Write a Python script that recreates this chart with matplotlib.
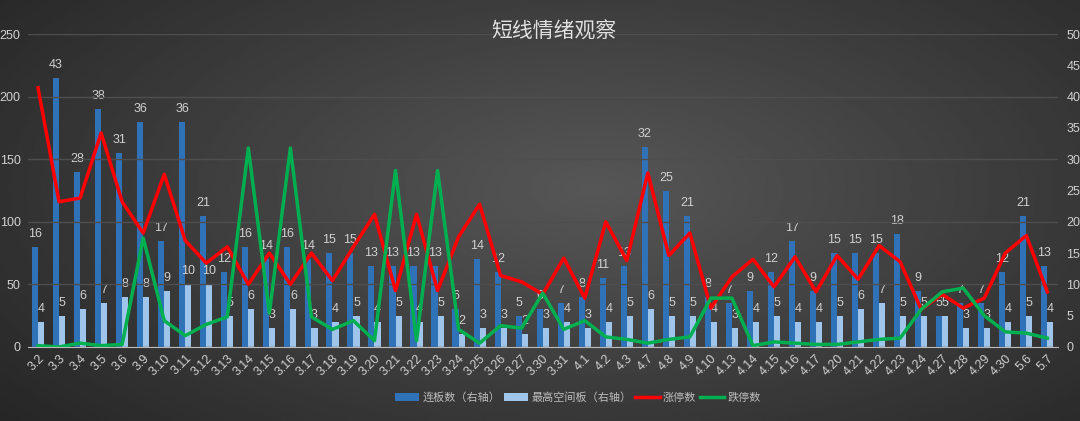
import numpy as np
import matplotlib
matplotlib.use('Agg')
import matplotlib.pyplot as plt

plt.rcParams['font.family'] = ['Liberation Sans', 'Noto Sans CJK SC', 'DejaVu Sans']

# 数据
dates = ['3.2', '3.3', '3.4', '3.5', '3.6', '3.9', '3.10', '3.11', '3.12', '3.13',
         '3.14', '3.15', '3.16', '3.17', '3.18', '3.19', '3.20', '3.21', '3.22', '3.23',
         '3.24', '3.25', '3.26', '3.27', '3.30', '3.31', '4.1', '4.2', '4.3', '4.7',
         '4.8', '4.9', '4.10', '4.13', '4.14', '4.15', '4.16', '4.17', '4.20', '4.21',
         '4.22', '4.23', '4.24', '4.27', '4.28', '4.29', '4.30', '5.6', '5.7']
lianban = [16, 43, 28, 38, 31, 36, 17, 36, 21, 12,
           16, 14, 16, 14, 15, 15, 13, 13, 13, 13,
           6, 14, 12, 5, 6, 7, 8, 11, 13, 32,
           25, 21, 8, 7, 9, 12, 17, 9, 15, 15,
           15, 18, 9, 5, 7, 7, 12, 21, 13]
zuigao = [4, 5, 6, 7, 8, 8, 9, 10, 10, 5,
          6, 3, 6, 3, 4, 5, 4, 5, 4, 5,
          2, 3, 3, 2, 3, 4, 3, 4, 5, 6,
          5, 5, 4, 3, 4, 5, 4, 4, 5, 6,
          7, 5, 5, 5, 3, 3, 4, 5, 4]
zhangting = [207, 116, 119, 171, 116, 91, 138, 85, 67, 80,
             50, 75, 50, 75, 53, 80, 106, 45, 106, 45,
             88, 114, 57, 52, 42, 71, 39, 100, 69, 139,
             73, 91, 31, 56, 70, 48, 72, 44, 73, 54,
             81, 68, 30, 42, 31, 39, 75, 89, 44]
dieting = [1, 0, 3, 1, 2, 87, 21, 9, 18, 24,
           159, 27, 159, 24, 14, 21, 5, 141, 5, 141,
           14, 3, 17, 15, 43, 14, 21, 8, 6, 3,
           6, 8, 39, 39, 1, 4, 3, 2, 2, 4,
           6, 7, 30, 44, 47, 25, 12, 11, 7]

fig = plt.figure(figsize=(10.8, 4.21), dpi=100)

# 背景渐变
bg = fig.add_axes([0, 0, 1, 1])
yy, xx = np.mgrid[0:1:200j, 0:1:400j]
r = np.sqrt(((xx - 0.55) / 0.75) ** 2 + ((yy - 0.45) / 0.9) ** 2)
bg.imshow(0.34 - 0.2 * r, cmap='gray', vmin=0, vmax=1, aspect='auto',
          extent=[0, 1, 0, 1])
bg.axis('off')

ax = fig.add_axes([0.0255, 0.176, 0.954, 0.743])
ax.patch.set_alpha(0)
ax2 = ax.twinx()
ax.set_zorder(ax2.get_zorder() + 1)

x = np.arange(len(dates))
w = 0.29
b1 = ax2.bar(x - w / 2, lianban, w, color='#2f72b8', label='连板数（右轴）')
b2 = ax2.bar(x + w / 2, zuigao, w, color='#9fc5ea', label='最高空间板（右轴）')
ax2.bar_label(b1, padding=5, color='#d0d0d0', fontsize=9)
ax2.bar_label(b2, padding=5, color='#d0d0d0', fontsize=9)

l1, = ax.plot(x, zhangting, color='#ff0000', lw=2.5, label='涨停数')
l2, = ax.plot(x, dieting, color='#00b050', lw=2.5, label='跌停数')

ax.set_ylim(0, 250)
ax2.set_ylim(0, 50)
ax.set_xlim(-0.5, len(dates) - 0.5)
ax.set_yticks(range(0, 251, 50))
ax2.set_yticks(range(0, 51, 5))
ax.set_xticks(x)
ax.set_xticklabels(dates, rotation=45, ha='right', rotation_mode='anchor')

ax.grid(axis='y', color='#4e4e4e', lw=1)
ax.set_axisbelow(True)
for a in (ax, ax2):
    for s in a.spines.values():
        s.set_visible(False)
    a.tick_params(length=0, colors='#d0d0d0', labelsize=9)
ax2.grid(False)
ax.spines['bottom'].set_visible(True)
ax.spines['bottom'].set_color('#bbbbbb')
ax.tick_params(axis='y', pad=5)
ax.tick_params(axis='x', pad=4)
ax2.tick_params(axis='y', pad=6)

fig.text(0.513, 0.925, '短线情绪观察', ha='center', va='center', fontsize=15,
         color='#e0e0e0', family=['Noto Sans CJK SC', 'DejaVu Sans'])

leg = fig.legend([b1, b2, l1, l2],
                 ['连板数（右轴）', '最高空间板（右轴）', '涨停数', '跌停数'],
                 loc='center', bbox_to_anchor=(0.535, 0.055), ncol=4,
                 frameon=False, fontsize=8, handlelength=2.2, columnspacing=0.3,
                 handletextpad=0.3)
for t in leg.get_texts():
    t.set_color('#bbbbbb')
    t.set_family(['Noto Sans CJK SC', 'DejaVu Sans'])

fig.savefig('out.png', dpi=100)
